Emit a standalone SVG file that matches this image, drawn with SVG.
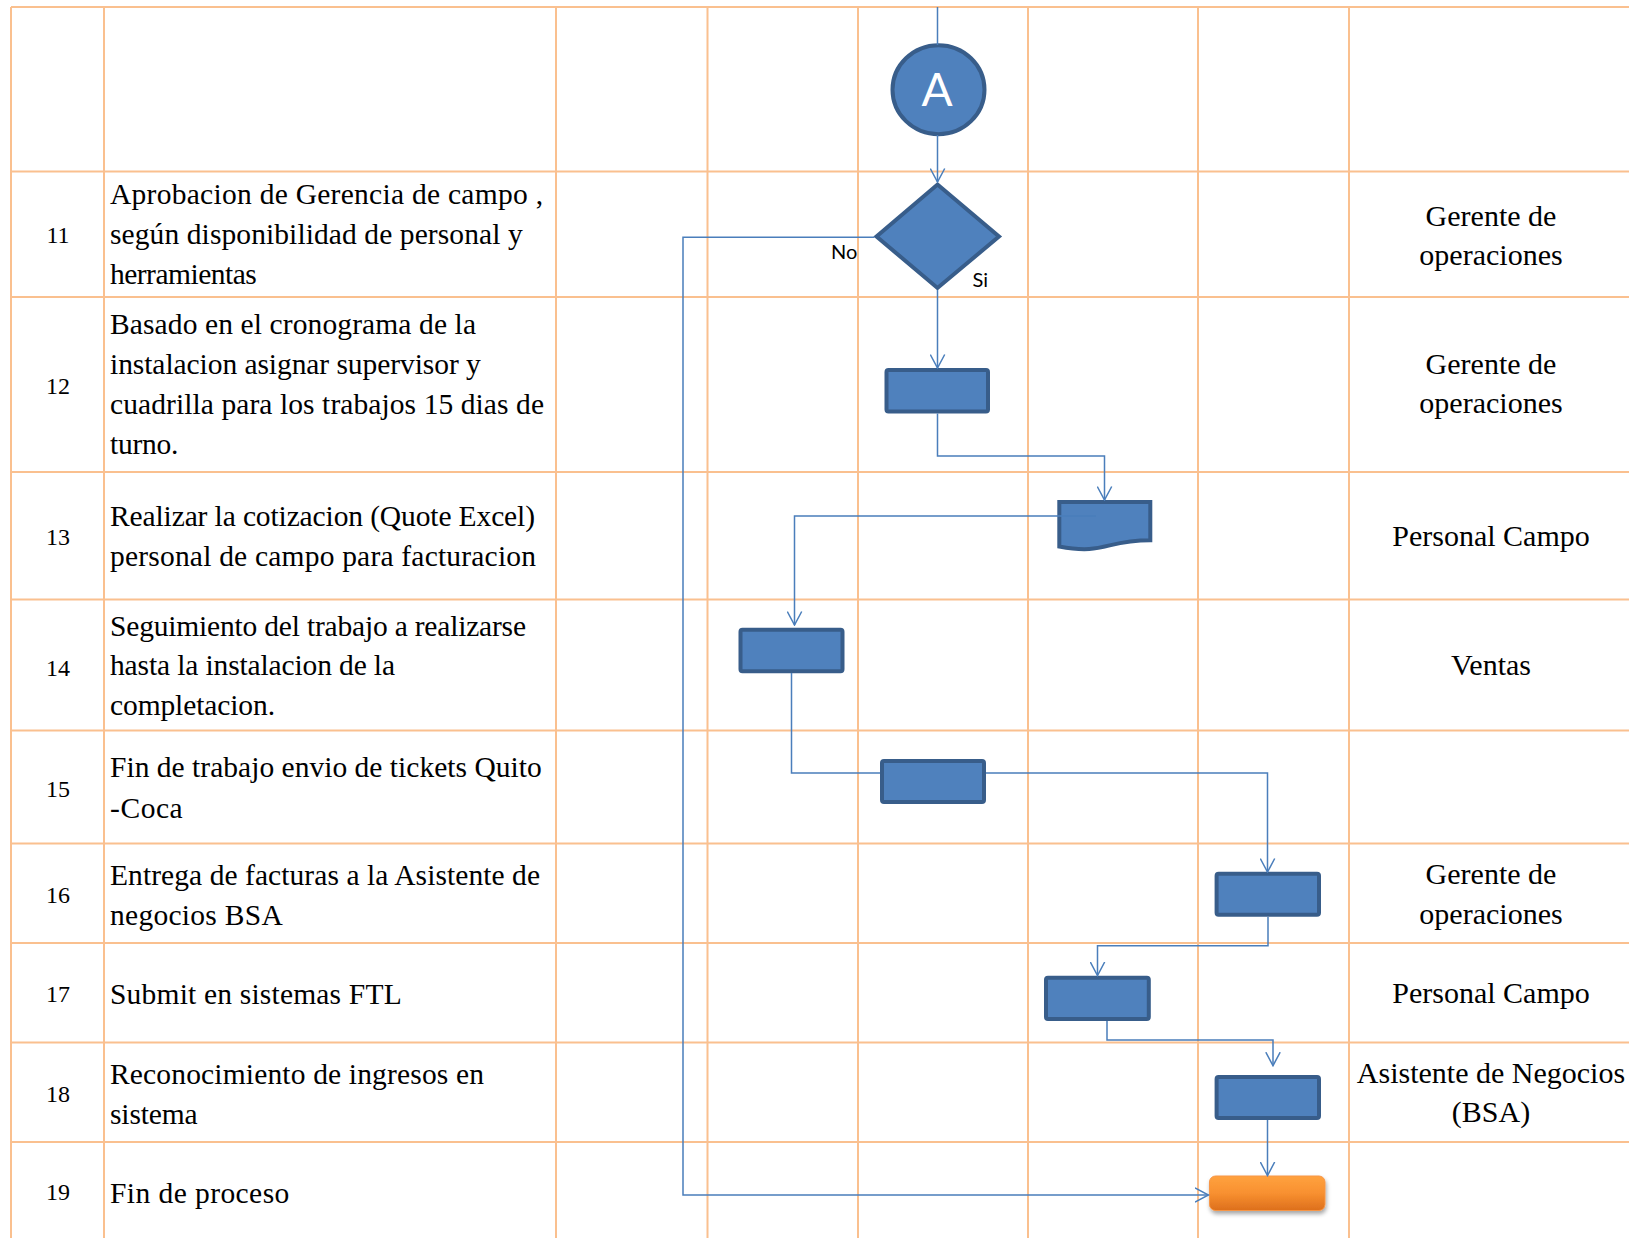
<svg xmlns="http://www.w3.org/2000/svg" width="1629" height="1238" viewBox="0 0 1629 1238">
<style>
.g{stroke:#FAC08F;stroke-width:2;fill:none}
.t{font-family:"Liberation Serif","Times New Roman",serif;font-size:29.5px;fill:#000}
.num{font-family:"Liberation Serif","Times New Roman",serif;font-size:24px;fill:#000;text-anchor:middle}
.r{font-family:"Liberation Serif","Times New Roman",serif;font-size:30px;fill:#000;text-anchor:middle}
.box{fill:#4F81BD;stroke:#385D8A;stroke-width:4}
.c{fill:none;stroke:#4A7EBB;stroke-width:1.5}
.lbl{font-family:Lato,"Open Sans",sans-serif;font-size:20px;fill:#000}
</style>
<defs>
<marker id="arr" markerUnits="userSpaceOnUse" viewBox="0 0 15 16" refX="14" refY="8" markerWidth="15" markerHeight="16" orient="auto">
<path d="M0.5,0.8 L14,8 L0.5,15.2" fill="none" stroke="#4A7EBB" stroke-width="1.5"/>
</marker>
<linearGradient id="og" x1="0" y1="0" x2="0" y2="1">
<stop offset="0" stop-color="#FFA23F"/>
<stop offset="0.5" stop-color="#F89030"/>
<stop offset="1" stop-color="#DD6F1C"/>
</linearGradient>
<filter id="sh" x="-20%" y="-30%" width="140%" height="180%">
<feDropShadow dx="1" dy="3" stdDeviation="2" flood-color="#000" flood-opacity="0.35"/>
</filter>
</defs>
<rect width="1629" height="1238" fill="#fff"/>
<g id="table">
<path class="g" d="M11,7H1629M11,171.5H1629M11,297H1629M11,472H1629M11,599.5H1629M11,730.5H1629M11,843.5H1629M11,943H1629M11,1042.5H1629M11,1142H1629"/>
<path class="g" d="M11,7V1238M104,7V1238M556,7V1238M707.5,7V1238M858,7V1238M1028,7V1238M1198,7V1238M1349,7V1238"/>
<text class="num" x="58" y="243">11</text>
<text class="num" x="58" y="394">12</text>
<text class="num" x="58" y="545">13</text>
<text class="num" x="58" y="675.5">14</text>
<text class="num" x="58" y="797">15</text>
<text class="num" x="58" y="903">16</text>
<text class="num" x="58" y="1002">17</text>
<text class="num" x="58" y="1101.5">18</text>
<text class="num" x="58" y="1200">19</text>
<text class="t" x="110" y="204.3" textLength="433" lengthAdjust="spacing">Aprobacion de Gerencia de campo ,</text>
<text class="t" x="110" y="244" textLength="412.7" lengthAdjust="spacing">según disponibilidad de personal y</text>
<text class="t" x="110" y="284" textLength="146.7" lengthAdjust="spacing">herramientas</text>
<text class="t" x="110" y="334" textLength="366" lengthAdjust="spacing">Basado en el cronograma de la</text>
<text class="t" x="110" y="374" textLength="370.7" lengthAdjust="spacing">instalacion asignar supervisor y</text>
<text class="t" x="110" y="414" textLength="434" lengthAdjust="spacing">cuadrilla para los trabajos 15 dias de</text>
<text class="t" x="110" y="454" textLength="68.3" lengthAdjust="spacing">turno.</text>
<text class="t" x="110" y="525.7" textLength="425" lengthAdjust="spacing">Realizar la cotizacion (Quote Excel)</text>
<text class="t" x="110" y="566.3" textLength="426" lengthAdjust="spacing">personal de campo para facturacion</text>
<text class="t" x="110" y="635.7" textLength="416" lengthAdjust="spacing">Seguimiento del trabajo a realizarse</text>
<text class="t" x="110" y="675" textLength="285" lengthAdjust="spacing">hasta la instalacion de la</text>
<text class="t" x="110" y="715" textLength="165" lengthAdjust="spacing">completacion.</text>
<text class="t" x="110" y="776.7" textLength="431.7" lengthAdjust="spacing">Fin de trabajo envio de tickets Quito</text>
<text class="t" x="110" y="818" textLength="72.7" lengthAdjust="spacing">-Coca</text>
<text class="t" x="110" y="885" textLength="430" lengthAdjust="spacing">Entrega de facturas a la Asistente de</text>
<text class="t" x="110" y="924.5" textLength="172.7" lengthAdjust="spacing">negocios BSA</text>
<text class="t" x="110" y="1004" textLength="291.7" lengthAdjust="spacing">Submit en sistemas FTL</text>
<text class="t" x="110" y="1084.3" textLength="374" lengthAdjust="spacing">Reconocimiento de ingresos en</text>
<text class="t" x="110" y="1123.5" textLength="87.7" lengthAdjust="spacing">sistema</text>
<text class="t" x="110" y="1203.3" textLength="179.3" lengthAdjust="spacing">Fin de proceso</text>
<text class="r" x="1491" y="226">Gerente de</text>
<text class="r" x="1491" y="265">operaciones</text>
<text class="r" x="1491" y="374.3">Gerente de</text>
<text class="r" x="1491" y="413.3">operaciones</text>
<text class="r" x="1491" y="546">Personal Campo</text>
<text class="r" x="1491" y="675">Ventas</text>
<text class="r" x="1491" y="884.3">Gerente de</text>
<text class="r" x="1491" y="924.3">operaciones</text>
<text class="r" x="1491" y="1002.7">Personal Campo</text>
<text class="r" x="1491" y="1083.3">Asistente de Negocios</text>
<text class="r" x="1491" y="1122">(BSA)</text>
</g>
<g id="node-A">
<ellipse class="box" cx="938.5" cy="89.7" rx="46" ry="44.5"/>
<text x="937" y="106" text-anchor="middle" font-family="Lato,'Open Sans',sans-serif" font-size="46" fill="#fff">A</text>
</g>
<g id="node-decision">
<path class="box" d="M937.5,184.5 L999,236.5 L937.5,288 L876.5,236.5 Z" stroke-linejoin="miter"/>
</g>
<g id="node-12"><rect class="box" x="886.5" y="370" width="101.5" height="41.5" rx="2"/></g>
<g id="node-13"><path class="box" d="M1059.3,502 H1150.3 V540.3 C1104.8,540.3 1104.8,555 1059.3,546.5 Z"/></g>
<g id="node-14"><rect class="box" x="740.5" y="629.7" width="102" height="41.6" rx="2"/></g>
<g id="node-15"><rect class="box" x="882" y="761" width="102" height="41" rx="2"/></g>
<g id="node-16"><rect class="box" x="1216.6" y="873.7" width="102.4" height="41" rx="2"/></g>
<g id="node-17"><rect class="box" x="1046" y="977.7" width="102.8" height="41.3" rx="2"/></g>
<g id="node-18"><rect class="box" x="1216.6" y="1077" width="102.4" height="41" rx="2"/></g>
<g id="node-end"><rect x="1209.5" y="1176" width="115.5" height="34.5" rx="6" fill="url(#og)" stroke="#F79646" stroke-width="1" filter="url(#sh)"/></g>
<g id="connectors">
<path class="c" d="M937.5,7 V45"/>
<path class="c" d="M937.5,135 V182" marker-end="url(#arr)"/>
<path class="c" d="M874.5,237.3 H683 V1195 H1208.5" marker-end="url(#arr)"/>
<path class="c" d="M937.5,290 V368" marker-end="url(#arr)"/>
<path class="c" d="M937.5,413.5 V456 H1104.5 V500" marker-end="url(#arr)"/>
<path class="c" d="M1096,516 H794.5 V625" marker-end="url(#arr)"/>
<path class="c" d="M791.5,673 V773 H880"/>
<path class="c" d="M986,773 H1267.5 V872" marker-end="url(#arr)"/>
<path class="c" d="M1268,917 V945.7 H1097.5 V975.5" marker-end="url(#arr)"/>
<path class="c" d="M1107,1021 V1040 H1273 V1065.7" marker-end="url(#arr)"/>
<path class="c" d="M1267.5,1120 V1175.5" marker-end="url(#arr)"/>
<text class="lbl" x="831" y="259">No</text>
<text class="lbl" x="972.5" y="287.3">Si</text>
</g>
</svg>
